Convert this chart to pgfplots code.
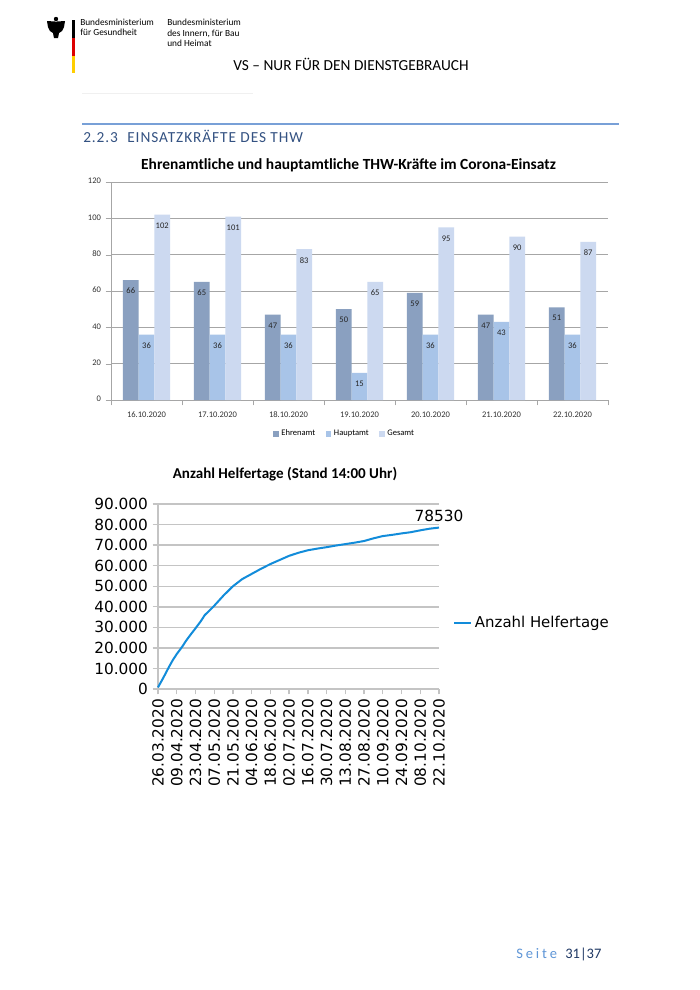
\documentclass[border=0pt]{standalone}
\usepackage{fontspec}
\setmainfont{Carlito}
\newfontfamily\dejavu{DejaVu Sans}
\usepackage{pgfplots}
\pgfplotsset{compat=1.18}

\definecolor{ehren}{RGB}{138,160,192}
\definecolor{haupt}{RGB}{168,196,232}
\definecolor{gesamt}{RGB}{204,217,240}
\definecolor{gridgray}{RGB}{166,166,166}
\definecolor{gridlight}{RGB}{196,196,196}
\definecolor{linecol}{RGB}{18,140,218}
\definecolor{headblue}{RGB}{52,82,130}
\definecolor{rulblue}{RGB}{120,160,215}
\definecolor{seiteblue}{RGB}{95,150,215}
\definecolor{navy}{RGB}{31,56,100}
\definecolor{flagred}{RGB}{221,0,0}
\definecolor{flaggold}{RGB}{255,206,0}

\begin{document}
\begin{tikzpicture}
% page frame and decorations, in pixel coordinates (y downwards)
\begin{scope}[x=0.75pt,y=-0.75pt]
\fill[white] (0,0) rectangle (700,990);
\useasboundingbox (0,0) rectangle (700,990);
% eagle (rough)
\fill[black] (56,19) circle (2.2);
\fill[black] (47,21) -- (55,21.5) -- (57,21.5) -- (65,21) -- (64,27) -- (62,31) -- (59,33) -- (58,38) -- (54,38) -- (53,33) -- (50,31) -- (48,27) -- cycle;
% flag bar
\fill[black] (72,20) rectangle (74.5,38);
\fill[flagred] (72,38) rectangle (74.5,56);
\fill[flaggold] (72,56) rectangle (74.5,73);
\node[anchor=west, inner sep=0, align=left, font=\fontsize{7}{7.9}\selectfont] at (80,27.5) {Bundesministerium\\für Gesundheit};
\node[anchor=west, inner sep=0, align=left, font=\fontsize{7}{7.9}\selectfont] at (167,33) {Bundesministerium\\des Innern, für Bau\\und Heimat};
\node[font=\fontsize{11.5}{13}\selectfont] at (351,64) {VS – NUR FÜR DEN DIENSTGEBRAUCH};
\draw[black!6, line width=0.75pt] (82,93) -- (253,93);
\draw[rulblue, line width=0.9pt] (82,124) -- (619,124);
\node[anchor=west, inner sep=0, text=headblue, font=\fontsize{11.5}{13}\selectfont\addfontfeature{LetterSpace=6}] at (83,136) {2.2.3\hspace{7pt}EINSATZKRÄFTE DES THW};
% chart titles
\node[font=\bfseries\fontsize{11.6}{13}\selectfont] at (348.5,165) {Ehrenamtliche und hauptamtliche THW-Kräfte im Corona-Einsatz};
\node[font=\bfseries\fontsize{11.3}{13}\selectfont] at (285,474) {Anzahl Helfertage (Stand 14:00 Uhr)};
% footer
\node[anchor=west, inner sep=0, text=seiteblue, font=\fontsize{10.9}{12}\selectfont\addfontfeature{LetterSpace=20}] at (516,954) {Seite};
\node[anchor=west, inner sep=0, text=navy, font=\fontsize{10.9}{12}\selectfont] at (565,954) {31|37};
\end{scope}

% bar chart
\begin{axis}[
    at={(83.25pt,-300pt)}, anchor=south west,
    scale only axis, width=372.75pt, height=163.5pt,
    ybar=0pt, bar width=11.8pt,
    xmin=-0.5, xmax=6.5, ymin=0, ymax=120,
    ytick={0,20,...,120},
    xtick={0,...,6},
    xticklabels={16.10.2020,17.10.2020,18.10.2020,19.10.2020,20.10.2020,21.10.2020,22.10.2020},
    minor xtick={-0.5,0.5,...,6.5},
    major x tick style={draw=none},
    minor x tick style={gridgray},
    minor tick length=4pt, major tick length=4pt,
    tick align=outside,
    axis x line*=bottom, axis y line*=left,
    axis line style={gridgray},
    ytick style={gridgray},
    ymajorgrids, grid style={gridgray, line width=0.6pt},
    /pgf/number format/assume math mode=true,
    typeset ticklabels with strut,
    tick label style={font=\fontsize{6.4}{7}\selectfont, text=black!80},
    xticklabel style={yshift=-1pt},
    nodes near coords, nodes near coords align={below},
    every node near coord/.append style={font=\fontsize{6.4}{7}\selectfont, text=black!85, yshift=-2.5pt},
    legend style={at={(0.471,-0.156)}, anchor=center, draw=none, fill=none,
        legend columns=3, font=\fontsize{6.4}{7}\selectfont,
        /tikz/every even column/.append style={column sep=6pt}},
    legend image code/.code={\fill[#1] (0pt,-2pt) rectangle (4pt,2pt);},
]
\addplot[fill=ehren, draw=none] coordinates {(0,66) (1,65) (2,47) (3,50) (4,59) (5,47) (6,51)};
\addplot[fill=haupt, draw=none] coordinates {(0,36) (1,36) (2,36) (3,15) (4,36) (5,43) (6,36)};
\addplot[fill=gesamt, draw=none] coordinates {(0,102) (1,101) (2,83) (3,65) (4,95) (5,90) (6,87)};
\legend{Ehrenamt,Hauptamt,Gesamt}
\end{axis}

% line chart (x = days since 26.03.2020)
\begin{axis}[
    at={(118.5pt,-516.75pt)}, anchor=south west,
    scale only axis, width=210.75pt, height=138.75pt,
    xmin=0, xmax=210, ymin=0, ymax=90000,
    xtick={0,14,...,210},
    xticklabels={26.03.2020,09.04.2020,23.04.2020,07.05.2020,21.05.2020,04.06.2020,18.06.2020,02.07.2020,16.07.2020,30.07.2020,13.08.2020,27.08.2020,10.09.2020,24.09.2020,08.10.2020,22.10.2020},
    ytick={0,10000,...,90000},
    scaled y ticks=false,
    /pgf/number format/assume math mode=true,
    yticklabel style={/pgf/number format/.cd, fixed, 1000 sep={.}},
    tick label style={font=\dejavu\fontsize{11.5}{12}\selectfont},
    xticklabel style={rotate=90, anchor=east},
    axis x line*=bottom, axis y line*=left,
    axis line style={gridlight, line width=1pt},
    tick style={gridlight, line width=1pt},
    tick align=outside, major tick length=4pt,
    ymajorgrids, grid style={gridlight, line width=1.1pt},
    clip=false,
    legend style={at={(1.05,0.357)}, anchor=west, draw=none, fill=none, inner sep=0pt,
        font=\dejavu\fontsize{11.2}{12}\selectfont},
    legend image code/.code={\draw[#1] (0pt,0pt) -- (12.75pt,0pt);},
]
\addplot[linecol, line width=1.5pt] coordinates {
(0,800) (4,5500) (8,10500) (11,14000) (14,17000) (18,20500) (21,23500)
(25,27000) (28,29500) (32,33000) (35,36000) (39,38500) (42,40500)
(49,45500) (56,50000) (63,53500) (70,56000) (77,58500) (84,60800)
(91,62800) (98,64800) (105,66300) (112,67500) (119,68300) (126,69000)
(133,69800) (140,70500) (147,71200) (154,72000) (161,73300) (168,74400)
(175,75000) (182,75700) (189,76300) (196,77200) (203,78000) (210,78530)
};
\legend{Anzahl Helfertage}
\node[anchor=south, inner sep=0pt, yshift=4pt, font=\dejavu\fontsize{11.5}{12}\selectfont] at (axis cs:210,78530) {78530};
\end{axis}
\end{tikzpicture}
\end{document}
